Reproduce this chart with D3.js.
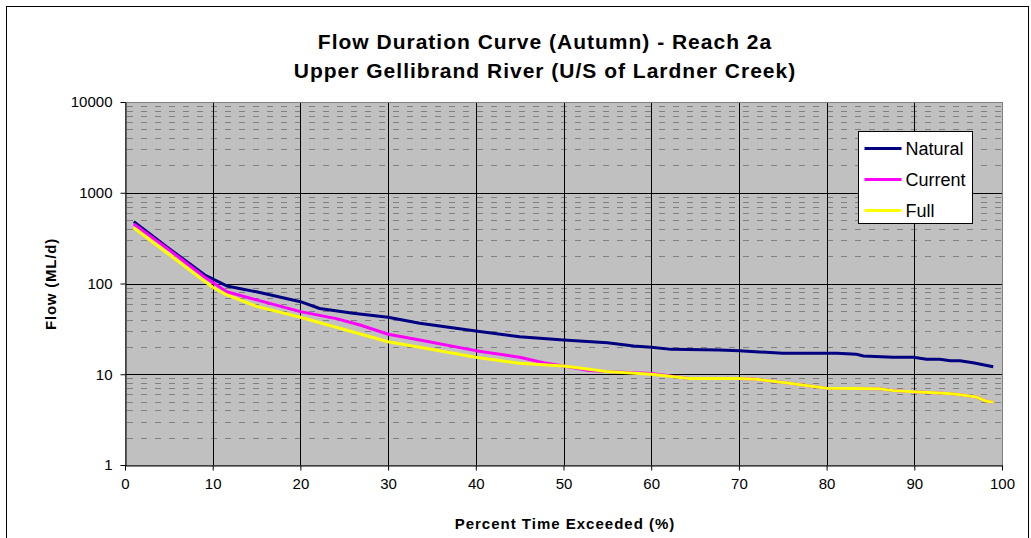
<!DOCTYPE html>
<html>
<head>
<meta charset="utf-8">
<script src="https://cdn.jsdelivr.net/npm/d3@7"></script>
<style>
  body { margin: 0; background: #fff; }
  svg text { font-family: Arial, "Liberation Sans", sans-serif; }
</style>
</head>
<body>
<div id="chart"></div>
<script>
// Données
const seriesNames = ["Natural", "Current", "Full"];
const seriesColors = ["#000080", "#ff00ff", "#ffff00"];

const naturalPct = [1, 5, 9.1, 11.6, 15, 20, 22.2, 26, 30, 33.6, 40, 45, 50, 55, 58, 60, 62.3, 67.8, 70, 75, 81.2, 83.4, 84.2, 87.6, 89.9, 91.4, 92.9, 94.1, 95.2, 96.7, 99];
const naturalFlow = [480, 244, 124, 94, 81, 63, 53, 47, 42.4, 36.4, 30, 25.9, 23.8, 22.3, 20.5, 19.8, 18.8, 18.5, 18.2, 17, 17, 16.6, 15.9, 15.4, 15.4, 14.6, 14.6, 14.1, 14.1, 13.4, 12.1];

const currentPct = [1, 5, 9.1, 11.6, 15, 20, 24.1, 26.8, 30, 33.6, 40, 45, 47.7, 50, 52.6, 54.9, 60, 64.4, 70, 72, 75.1, 80, 86.1, 87.6, 89.9, 92.9, 94.6, 97.1, 98.1, 99];
const currentFlow = [453, 236, 117, 81, 66, 49, 41, 34.9, 27.6, 23.8, 18.2, 15.4, 13.4, 12.3, 11.1, 10.7, 10.2, 9.0, 9.0, 8.8, 8.1, 7.0, 6.9, 6.6, 6.4, 6.2, 6.07, 5.6, 5.1, 4.9];

const fullPct = [1, 5, 10, 11.6, 15, 20, 30, 33.6, 40, 45, 50, 54.9, 60, 64.4, 70, 72, 75.1, 80, 86.1, 87.6, 89.9, 92.9, 94.6, 97.1, 98.1, 99];
const fullFlow = [412, 210, 91, 75, 56, 42.4, 22.8, 19.8, 15.4, 13.2, 12.3, 10.7, 10.0, 9.0, 9.0, 8.8, 8.1, 7.0, 6.9, 6.6, 6.4, 6.2, 6.07, 5.6, 5.1, 4.9];

const xTicks = [0, 10, 20, 30, 40, 50, 60, 70, 80, 90, 100];
const yTicks = [1, 10, 100, 1000, 10000];

const width = 1031;
const height = 538;
const plot = { left: 125, right: 1002, top: 102, bottom: 465 };

const svg = d3.select("#chart")
    .append("svg")
    .attr("width", width)
    .attr("height", height);

// Cadre extérieur
svg.append("rect")
    .attr("x", 6.5).attr("y", 6.5)
    .attr("width", 1022).attr("height", 560)
    .attr("fill", "#fff")
    .attr("stroke", "#000");

const x = d3.scaleLinear().domain([0, 100]).range([plot.left, plot.right]);
const y = d3.scaleLog().domain([1, 10000]).range([plot.bottom, plot.top]);

// Zone de tracé
svg.append("rect")
    .attr("x", plot.left).attr("y", plot.top)
    .attr("width", plot.right - plot.left)
    .attr("height", plot.bottom - plot.top)
    .attr("fill", "#c0c0c0");

// Grille mineure (pointillés)
const minor = [];
[1, 10, 100, 1000].forEach(d => {
    for (let m = 2; m <= 9; m++) minor.push(m * d);
});
svg.append("g")
    .selectAll("line")
    .data(minor)
    .enter()
    .append("line")
    .attr("x1", plot.left).attr("x2", plot.right)
    .attr("y1", d => Math.round(y(d)) + 0.5)
    .attr("y2", d => Math.round(y(d)) + 0.5)
    .attr("stroke", "#808080")
    .attr("stroke-dasharray", "6,8")
    .attr("stroke-dashoffset", -2);

// Grille majeure
svg.append("g")
    .selectAll("line")
    .data(yTicks.slice(1, -1))
    .enter()
    .append("line")
    .attr("x1", plot.left).attr("x2", plot.right)
    .attr("y1", d => Math.round(y(d)) + 0.5)
    .attr("y2", d => Math.round(y(d)) + 0.5)
    .attr("stroke", "#000");

svg.append("g")
    .selectAll("line")
    .data(xTicks.slice(1, -1))
    .enter()
    .append("line")
    .attr("y1", plot.top).attr("y2", plot.bottom)
    .attr("x1", d => Math.round(x(d)) + 0.5)
    .attr("x2", d => Math.round(x(d)) + 0.5)
    .attr("stroke", "#000");

// Bordure de la zone de tracé
svg.append("rect")
    .attr("x", plot.left + 0.5).attr("y", plot.top + 0.5)
    .attr("width", plot.right - plot.left)
    .attr("height", plot.bottom - plot.top)
    .attr("fill", "none")
    .attr("stroke", "#808080");

// Courbes
const series = [
    { pct: naturalPct, flow: naturalFlow },
    { pct: currentPct, flow: currentFlow },
    { pct: fullPct, flow: fullFlow }
];

const line = d3.line()
    .x(d => x(d[0]))
    .y(d => y(d[1]));

series.forEach((s, i) => {
    svg.append("path")
        .datum(d3.zip(s.pct, s.flow))
        .attr("d", line)
        .attr("fill", "none")
        .attr("stroke", seriesColors[i])
        .attr("stroke-width", 3)
        .attr("stroke-linejoin", "round");
});

// Axes
const xAxis = svg.append("g")
    .attr("transform", `translate(0, ${plot.bottom + 0.5})`)
    .call(d3.axisBottom(x).tickValues(xTicks).tickSize(5).tickSizeOuter(0).tickPadding(8));

const yAxis = svg.append("g")
    .attr("transform", `translate(${plot.left + 0.5}, 0)`)
    .call(d3.axisLeft(y).tickValues(yTicks).tickFormat(d3.format("d")).tickSize(5).tickSizeOuter(0).tickPadding(8));

[xAxis, yAxis].forEach(a => {
    a.select(".domain").attr("stroke", "#000");
    a.selectAll(".tick line").attr("stroke", "#000");
    a.selectAll(".tick text")
        .attr("fill", "#000")
        .style("font-size", "15px")
        .style("font-family", "Arial, 'Liberation Sans', sans-serif");
});

// Titres
svg.append("text")
    .attr("x", 545).attr("y", 49)
    .attr("text-anchor", "middle")
    .style("font-size", "21px")
    .style("font-weight", "bold")
    .style("letter-spacing", "1px")
    .text("Flow Duration Curve (Autumn) - Reach 2a");

svg.append("text")
    .attr("x", 545).attr("y", 78)
    .attr("text-anchor", "middle")
    .style("font-size", "21px")
    .style("font-weight", "bold")
    .style("letter-spacing", "1px")
    .text("Upper Gellibrand River (U/S of Lardner Creek)");

svg.append("text")
    .attr("x", 565).attr("y", 529)
    .attr("text-anchor", "middle")
    .style("font-size", "15px")
    .style("font-weight", "bold")
    .style("letter-spacing", "1px")
    .text("Percent Time Exceeded (%)");

svg.append("text")
    .attr("transform", "translate(56, 284) rotate(-90)")
    .attr("text-anchor", "middle")
    .style("font-size", "15px")
    .style("font-weight", "bold")
    .style("letter-spacing", "0.8px")
    .text("Flow (ML/d)");

// Légende
const legend = svg.append("g").attr("transform", "translate(858.5, 131.5)");
legend.append("rect")
    .attr("width", 114).attr("height", 92)
    .attr("fill", "#fff")
    .attr("stroke", "#000");

seriesNames.forEach((name, i) => {
    const ly = 17 + i * 31;
    legend.append("line")
        .attr("x1", 6).attr("x2", 43)
        .attr("y1", ly).attr("y2", ly)
        .attr("stroke", seriesColors[i])
        .attr("stroke-width", 3);
    legend.append("text")
        .attr("x", 47).attr("y", ly + 6.5)
        .style("font-size", "18px")
        .text(name);
});
</script>
</body>
</html>
